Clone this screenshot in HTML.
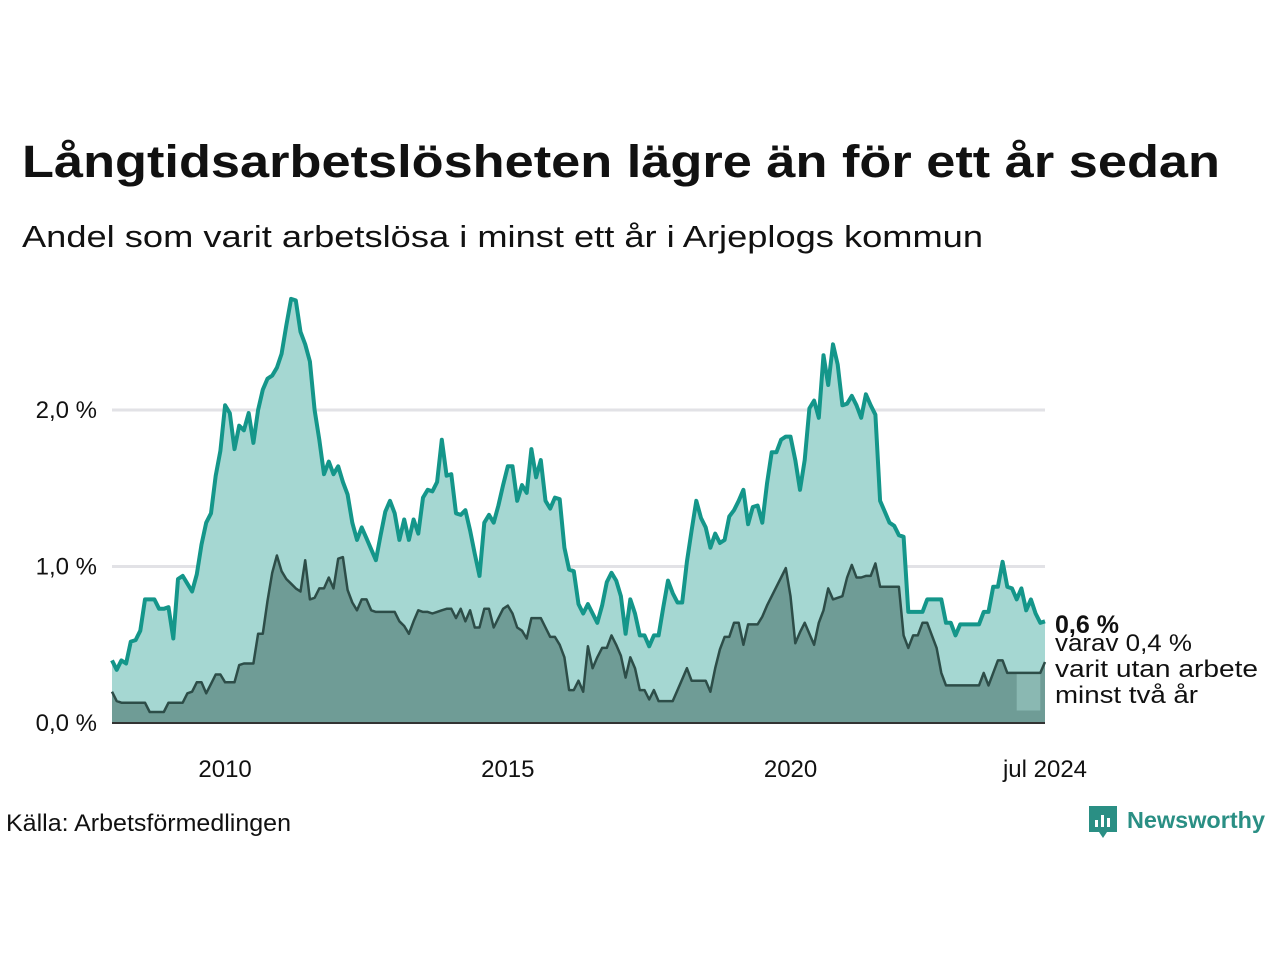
<!DOCTYPE html>
<html><head><meta charset="utf-8"><style>
body{margin:0;background:#fff;}
svg{display:block;font-family:"Liberation Sans",sans-serif;}
</style></head><body>
<svg id="chart" width="1280" height="960">
<text x="22" y="177" font-size="45" font-weight="bold" fill="#111" textLength="1198" lengthAdjust="spacingAndGlyphs">Långtidsarbetslösheten lägre än för ett år sedan</text>
<text x="22" y="247" font-size="31" fill="#111" textLength="961" lengthAdjust="spacingAndGlyphs">Andel som varit arbetslösa i minst ett år i Arjeplogs kommun</text>
<g id="grid"></g>
<g id="areas"></g>
<g id="ylabels"></g>
<g id="xlabels"></g>
<text x="1055" y="633" font-size="25" font-weight="bold" fill="#111">0,6 %</text>
<text x="1055" y="651" font-size="24" fill="#111" textLength="137" lengthAdjust="spacingAndGlyphs">varav 0,4 %</text>
<text x="1055" y="677" font-size="24" fill="#111" textLength="203" lengthAdjust="spacingAndGlyphs">varit utan arbete</text>
<text x="1055" y="703" font-size="24" fill="#111" textLength="143" lengthAdjust="spacingAndGlyphs">minst två år</text>
<text x="6" y="831" font-size="24" fill="#111" textLength="285" lengthAdjust="spacingAndGlyphs">Källa: Arbetsförmedlingen</text>
<g>
<path d="M1089 806 h28 v26 h-10 l-4 6 l-4 -6 h-10 z" fill="#2a8f84"/>
<rect x="1095" y="820" width="3" height="7" fill="#fff"/><rect x="1101" y="815" width="3" height="12" fill="#fff"/><rect x="1107" y="818" width="3" height="9" fill="#fff"/>
<text x="1127" y="828" font-size="23" font-weight="bold" fill="#2a8f84" textLength="138" lengthAdjust="spacingAndGlyphs">Newsworthy</text>
</g>
</svg>
<script>
const totalValues = [
0.40,0.34,0.40,0.38,0.52,0.53,0.59,0.79,0.79,0.79,0.73,0.73,
0.74,0.54,0.92,0.94,0.89,0.84,0.95,1.14,1.28,1.34,1.58,1.74,
2.03,1.98,1.75,1.90,1.87,1.98,1.79,2.00,2.13,2.20,2.22,2.27,
2.36,2.54,2.71,2.70,2.50,2.42,2.31,2.00,1.81,1.59,1.67,1.59,
1.64,1.54,1.46,1.28,1.17,1.25,1.18,1.11,1.04,1.20,1.35,1.42,
1.34,1.17,1.30,1.17,1.30,1.21,1.44,1.49,1.48,1.54,1.81,1.58,
1.59,1.34,1.33,1.36,1.23,1.08,0.94,1.28,1.33,1.28,1.39,1.52,
1.64,1.64,1.42,1.52,1.47,1.75,1.57,1.68,1.42,1.37,1.44,1.43,
1.12,0.98,0.97,0.76,0.70,0.76,0.70,0.64,0.75,0.90,0.96,0.91,
0.81,0.57,0.79,0.70,0.56,0.56,0.49,0.56,0.56,0.74,0.91,0.83,
0.77,0.77,1.03,1.23,1.42,1.31,1.25,1.12,1.21,1.15,1.17,1.32,
1.36,1.42,1.49,1.27,1.38,1.39,1.28,1.53,1.73,1.73,1.81,1.83,
1.83,1.68,1.49,1.68,2.01,2.06,1.95,2.35,2.16,2.42,2.29,2.03,
2.04,2.09,2.03,1.95,2.10,2.03,1.97,1.42,1.35,1.28,1.26,1.20,
1.19,0.71,0.71,0.71,0.71,0.79,0.79,0.79,0.79,0.64,0.64,0.56,
0.63,0.63,0.63,0.63,0.63,0.71,0.71,0.87,0.87,1.03,0.87,0.86,
0.79,0.86,0.72,0.79,0.70,0.64,0.65];
const longValues = [
0.20,0.14,0.13,0.13,0.13,0.13,0.13,0.13,0.07,0.07,0.07,0.07,
0.13,0.13,0.13,0.13,0.19,0.20,0.26,0.26,0.19,0.25,0.31,0.31,
0.26,0.26,0.26,0.37,0.38,0.38,0.38,0.57,0.57,0.78,0.96,1.07,
0.97,0.92,0.89,0.86,0.84,1.04,0.79,0.80,0.86,0.86,0.93,0.86,
1.05,1.06,0.85,0.77,0.72,0.79,0.79,0.72,0.71,0.71,0.71,0.71,
0.71,0.65,0.62,0.57,0.65,0.72,0.71,0.71,0.70,0.71,0.72,0.73,
0.73,0.67,0.73,0.65,0.72,0.61,0.61,0.73,0.73,0.61,0.67,0.73,
0.75,0.70,0.61,0.59,0.54,0.67,0.67,0.67,0.61,0.55,0.55,0.50,
0.42,0.21,0.21,0.27,0.20,0.49,0.35,0.42,0.48,0.48,0.56,0.50,
0.43,0.29,0.42,0.35,0.21,0.21,0.15,0.21,0.14,0.14,0.14,0.14,
0.21,0.28,0.35,0.27,0.27,0.27,0.27,0.20,0.35,0.47,0.55,0.55,
0.64,0.64,0.50,0.63,0.63,0.63,0.68,0.75,0.81,0.87,0.93,0.99,
0.81,0.51,0.58,0.64,0.57,0.50,0.64,0.72,0.86,0.79,0.80,0.81,
0.93,1.01,0.93,0.93,0.94,0.94,1.02,0.87,0.87,0.87,0.87,0.87,
0.56,0.48,0.56,0.56,0.64,0.64,0.56,0.48,0.32,0.24,0.24,0.24,
0.24,0.24,0.24,0.24,0.24,0.32,0.24,0.32,0.40,0.40,0.32,0.32,
0.32,0.32,0.32,0.32,0.32,0.32,0.39];
const yTicks = [0, 1, 2];
const yTickLabels = ["0,0 %", "1,0 %", "2,0 %"];
const xTickMonths = [24, 84, 144, 198];
const xTickLabels = ["2010", "2015", "2020", "jul 2024"];

const NS = "http://www.w3.org/2000/svg";
const x0 = 112, x1 = 1045, yBase = 723, yPerUnit = 156.5;
const n = totalValues.length;
const xs = i => x0 + (x1 - x0) * i / (n - 1);
const ys = v => yBase - v * yPerUnit;
function mk(tag, attrs, parent) {
  const e = document.createElementNS(NS, tag);
  for (const k in attrs) e.setAttribute(k, attrs[k]);
  parent.appendChild(e);
  return e;
}
const grid = document.getElementById('grid');
const areas = document.getElementById('areas');
const yl = document.getElementById('ylabels');
const xl = document.getElementById('xlabels');
yTicks.forEach((t, i) => {
  if (t > 0) {
    const g = mk('line', {x1: x0, x2: x1, y1: ys(t), y2: ys(t), stroke: '#e2e2e6', 'stroke-width': 3}, grid);
    
    
  }
  const lb = mk('text', {x: 97, y: ys(t) + 8, 'font-size': 24, fill: '#111', 'text-anchor': 'end'}, yl);
  lb.textContent = yTickLabels[i];
  
  
});
xTickMonths.forEach((m, i) => {
  const lb = mk('text', {x: xs(m), y: 777, 'font-size': 24, fill: '#111', 'text-anchor': 'middle'}, xl);
  lb.textContent = xTickLabels[i];
  
  
});
function pts(arr) { return arr.map((v, i) => xs(i).toFixed(1) + ',' + ys(v).toFixed(1)).join(' '); }
function areaPts(arr) { return pts(arr) + ' ' + x1 + ',' + yBase + ' ' + x0 + ',' + yBase; }
const ta = mk('polygon', {points: areaPts(totalValues), fill: '#a5d7d2'}, areas);


const la = mk('polygon', {points: areaPts(longValues), fill: '#6f9c96'}, areas);


const hi = n - 7;
let bandPts = [];
for (let i = hi; i < n - 1; i++) bandPts.push(xs(i).toFixed(1) + ',' + ys(longValues[i]).toFixed(1));
bandPts.push(xs(n - 2).toFixed(1) + ',' + ys(0.08).toFixed(1));
bandPts.push(xs(hi).toFixed(1) + ',' + ys(0.08).toFixed(1));
const band = mk('polygon', {points: bandPts.join(' '), fill: '#8ab8b2'}, areas);


const ll = mk('polyline', {points: pts(longValues), fill: 'none', stroke: '#2d4d48', 'stroke-width': 2.5, 'stroke-linejoin': 'round'}, areas);


const tl = mk('polyline', {points: pts(totalValues), fill: 'none', stroke: '#14968a', 'stroke-width': 4, 'stroke-linejoin': 'round'}, areas);


const ax = mk('line', {x1: x0, x2: x1, y1: yBase, y2: yBase, stroke: '#333', 'stroke-width': 2}, areas);


</script>
</body></html>
